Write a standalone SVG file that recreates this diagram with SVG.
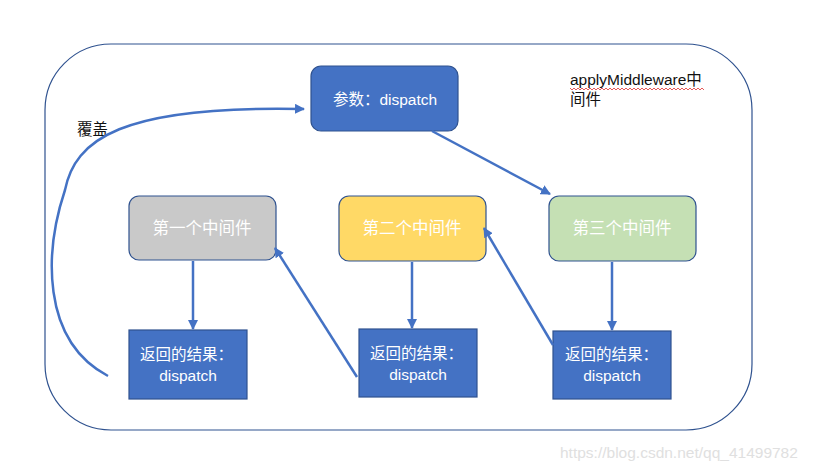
<svg xmlns="http://www.w3.org/2000/svg" width="813" height="471" viewBox="0 0 813 471">
<defs>
<marker id="ah" viewBox="0 0 10 10" refX="9" refY="5" markerWidth="4" markerHeight="4" orient="auto" markerUnits="strokeWidth">
<path d="M0,0 L10,5 L0,10 z" fill="#4472C4"/>
</marker>
<style>
.t{font-family:"Liberation Sans","Noto Sans CJK SC",sans-serif;font-size:15.5px;}
.w{fill:#ffffff;}
.k{fill:#111111;}
.m{font-size:16.5px;}
.node{stroke:#2F528F;stroke-width:1.2;}
.blue{fill:#4472C4;}
.c{fill:none;stroke:#4472C4;stroke-width:2.5;marker-end:url(#ah);}
</style>
</defs>
<rect width="813" height="471" fill="#ffffff"/>
<rect id="frame" x="45" y="44" width="707" height="386" rx="66" ry="66" fill="none" stroke="#2F528F" stroke-width="1.2"/>

<g id="label-apply">
<text class="t k" x="570" y="85">applyMiddleware中</text>
<text class="t k" x="570" y="105">间件</text>
<path d="M570,88 l2,2 l2,-2 l2,2 l2,-2 l2,2 l2,-2 l2,2 l2,-2 l2,2 l2,-2 l2,2 l2,-2 l2,2 l2,-2 l2,2 l2,-2 l2,2 l2,-2 l2,2 l2,-2 l2,2 l2,-2 l2,2 l2,-2 l2,2 l2,-2 l2,2 l2,-2 l2,2 l2,-2 l2,2 l2,-2 l2,2 l2,-2 l2,2 l2,-2 l2,2 l2,-2 l2,2 l2,-2 l2,2 l2,-2 l2,2 l2,-2 l2,2 l2,-2 l2,2 l2,-2 l2,2 l2,-2 l2,2 l2,-2 l2,2 l2,-2 l2,2 l2,-2 l2,2 l2,-2 l2,2 l2,-2 l2,2 l2,-2 l2,2 l2,-2 l2,2 l2,-2 l2,2" fill="none" stroke="#E03030" stroke-width="0.8"/>
</g>

<g id="label-cover">
<text class="t k" x="77" y="135">覆盖</text>
</g>

<g id="node-param">
<rect class="node blue" x="311" y="66" width="147" height="65" rx="10"/>
<text class="t w" x="385" y="105" text-anchor="middle">参数：dispatch</text>
</g>

<g id="node-mw1">
<rect class="node" x="129" y="196" width="147" height="64" rx="10" fill="#C9C9C9"/>
<text class="t w m" x="202" y="234" text-anchor="middle">第一个中间件</text>
</g>
<g id="node-mw2">
<rect class="node" x="339" y="196" width="147" height="65" rx="10" fill="#FFD966"/>
<text class="t w m" x="412" y="234" text-anchor="middle">第二个中间件</text>
</g>
<g id="node-mw3">
<rect class="node" x="549" y="196" width="147" height="65" rx="10" fill="#C5E0B4"/>
<text class="t w m" x="622" y="234" text-anchor="middle">第三个中间件</text>
</g>

<g id="node-ret1">
<rect class="node blue" x="129" y="330" width="118" height="69"/>
<text class="t w" x="140" y="360" font-size="16">返回的结果：</text>
<text class="t w" x="188" y="381" text-anchor="middle">dispatch</text>
</g>
<g id="node-ret2">
<rect class="node blue" x="359" y="329" width="118" height="68"/>
<text class="t w" x="370" y="359" font-size="16">返回的结果：</text>
<text class="t w" x="418" y="380" text-anchor="middle">dispatch</text>
</g>
<g id="node-ret3">
<rect class="node blue" x="553" y="331" width="118" height="68"/>
<text class="t w" x="565" y="360" font-size="16">返回的结果：</text>
<text class="t w" x="612" y="381" text-anchor="middle">dispatch</text>
</g>

<g id="connectors">
<path class="c" d="M432,131 L550,194"/>
<path class="c" d="M193,261 L193,329"/>
<path class="c" d="M412,262 L412,328"/>
<path class="c" d="M612,262 L612,330"/>
<path class="c" d="M357,377 L275,248"/>
<path class="c" d="M553,345 L484,228"/>
<path class="c" d="M108,376 C40,340 45,250 65,190 C75,140 120,105 304,109"/>
</g>

<text x="560" y="458" font-family="Liberation Sans, sans-serif" font-size="15.5" fill="#E0E0E0">https://blog.csdn.net/qq_41499782</text>
</svg>
